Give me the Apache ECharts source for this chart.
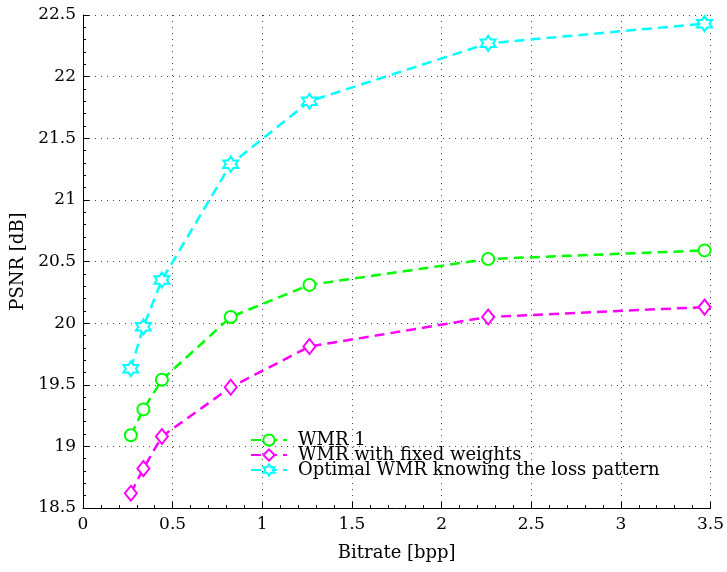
<!DOCTYPE html>
<html><head><meta charset="utf-8">
<script src="https://cdn.jsdelivr.net/npm/echarts@6/dist/echarts.min.js"></script>
<style>html,body{margin:0;padding:0;background:#fff}#c{width:727px;height:572px}</style>
</head><body><div id="c"></div>
<script>
const bitrate = [0.267, 0.337, 0.44, 0.824, 1.263, 2.26, 3.467];
const wmr1 = [19.09, 19.30, 19.54, 20.05, 20.31, 20.52, 20.59];
const wmrFixed = [18.62, 18.82, 19.08, 19.48, 19.81, 20.05, 20.13];
const wmrOptimal = [19.63, 19.97, 20.35, 21.29, 21.80, 22.27, 22.43];
const seriesNames = ['WMR 1', 'WMR with fixed weights', 'Optimal WMR knowing the loss pattern'];

const pair = (xs, ys) => xs.map((x, i) => [x, ys[i]]);
const hexagram = 'path://M0,-10L2.887,-5L8.66,-5L5.774,0L8.66,5L2.887,5L0,10L-2.887,5L-8.66,5L-5.774,0L-8.66,-5L-2.887,-5Z';
const font = '"DejaVu Serif", "Liberation Serif", serif';

function mk(name, data, color, symbol, size) {
  return {
    name, type: 'line', data, symbol, symbolSize: size,
    lineStyle: { color, width: 2.5, type: [10, 6] },
    itemStyle: { color: '#fff', borderColor: color, borderWidth: 2 },
    z: 3
  };
}

const chart = echarts.init(document.getElementById('c'));
chart.setOption({
  animation: false,
  textStyle: { fontFamily: font },
  grid: { left: 83, right: 14, top: 15, bottom: 64 },
  legend: {
    orient: 'vertical', left: 245, top: 426,
    itemWidth: 36, itemHeight: 14, itemGap: -3,
    textStyle: { fontFamily: font, fontSize: 18, color: '#000', padding: [0, 0, 0, 6] },
    data: seriesNames
  },
  xAxis: {
    type: 'value', min: 0, max: 3.5, interval: 0.5,
    name: 'Bitrate [bpp]', nameLocation: 'middle', nameGap: 36,
    nameTextStyle: { fontFamily: font, fontSize: 18, color: '#000' },
    axisLine: { show: true, lineStyle: { color: '#000', width: 1 } },
    axisTick: { show: true, inside: true, length: 6, lineStyle: { color: '#000' } },
    minorTick: { show: true, splitNumber: 5, length: 3, lineStyle: { color: '#000' } },
    axisLabel: { fontFamily: font, fontSize: 17, color: '#000', margin: 8 },
    splitLine: { show: true, lineStyle: { color: '#444', width: 1, type: [1, 5] } }
  },
  yAxis: {
    type: 'value', min: 18.5, max: 22.5, interval: 0.5,
    name: 'PSNR [dB]', nameLocation: 'middle', nameGap: 55, nameRotate: 90,
    nameTextStyle: { fontFamily: font, fontSize: 18, color: '#000' },
    axisLine: { show: true, lineStyle: { color: '#000', width: 1 } },
    axisTick: { show: true, inside: true, length: 6, lineStyle: { color: '#000' } },
    minorTick: { show: true, splitNumber: 5, length: 3, lineStyle: { color: '#000' } },
    axisLabel: { fontFamily: font, fontSize: 17, color: '#000', margin: 7 },
    splitLine: { show: true, lineStyle: { color: '#444', width: 1, type: [1, 5] } }
  },
  series: [
    mk(seriesNames[0], pair(bitrate, wmr1), '#00ff00', 'circle', 12),
    mk(seriesNames[1], pair(bitrate, wmrFixed), '#ff00ff', 'diamond', [12, 15]),
    mk(seriesNames[2], pair(bitrate, wmrOptimal), '#00ffff', hexagram, 15)
  ]
});
</script></body></html>
